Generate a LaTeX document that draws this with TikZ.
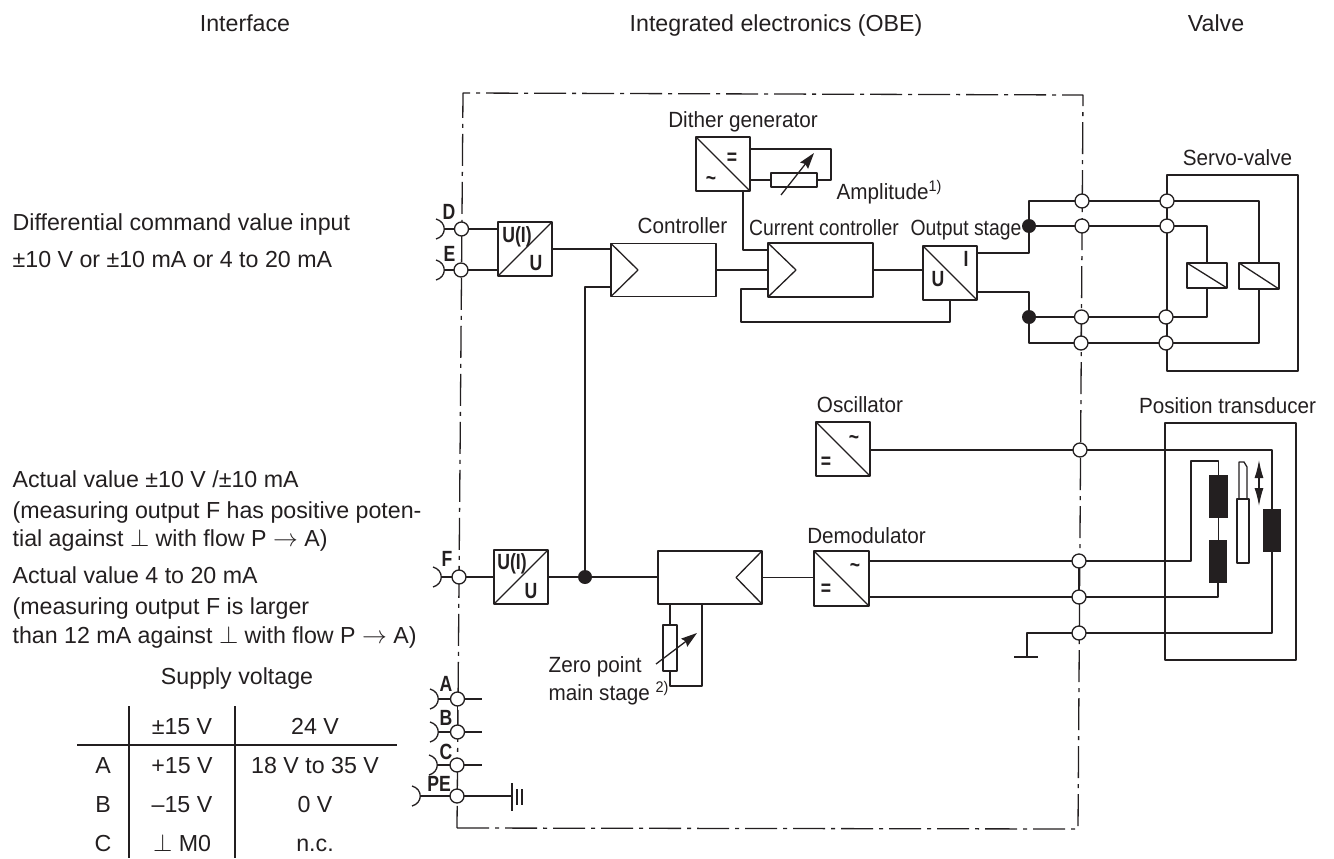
\documentclass[tikz,border=0pt]{standalone}
\usepackage{fontspec}
\setmainfont{Liberation Sans}
\newfontfamily\labfont[FakeStretch=0.94]{Liberation Sans}
\newfontfamily\tightfont[FakeStretch=0.88]{Liberation Sans}
\newfontfamily\tagfont[FakeStretch=0.8]{Liberation Sans}
\usetikzlibrary{arrows.meta}
\definecolor{ink}{HTML}{231F20}
\begin{document}
\begin{tikzpicture}[>={Stealth[length=16bp,width=10bp,inset=2bp]},line join=bevel,yscale=-1,
  color=ink,line width=1.3bp,
  big/.style={inner sep=0pt,text height=16.5bp,text depth=0pt,font=\fontsize{23.2bp}{26bp}\selectfont},
  lab/.style={inner sep=0pt,text height=16bp,text depth=0pt,font=\labfont\fontsize{22bp}{25bp}\selectfont},
  tight/.style={inner sep=0pt,text height=16bp,text depth=0pt,font=\tightfont\fontsize{22bp}{25bp}\selectfont},
  tag/.style={inner sep=0pt,text height=15.7bp,text depth=0pt,font=\tagfont\fontsize{22bp}{25bp}\selectfont\bfseries},
  box/.style={draw,rectangle,inner sep=0pt,outer sep=0pt,minimum width=#1},
  box/.default=54bp,
  core/.style={rectangle,fill=ink,inner sep=0pt,outer sep=0pt,minimum width=18.5bp,minimum height=43bp},
  term/.style={draw,circle,fill=white,inner sep=0pt,outer sep=0pt,minimum size=14bp},
  junc/.style={circle,fill=ink,inner sep=0pt,outer sep=0pt,minimum size=14bp},
  frame/.style={dash pattern=on 32bp off 6bp on 4bp off 6bp},
  socket/.pic={\draw (-8bp,-10bp) .. controls (3bp,-7bp) and (3bp,7bp) .. (-8bp,10bp);},
]
\useasboundingbox (0bp,0bp) rectangle (1334bp,859bp);
%%
\coordinate (frame_nw) at (463bp,93bp);
\coordinate (frame_ne) at (1083bp,95bp);
\coordinate (frame_se) at (1078bp,829bp);
\coordinate (frame_sw) at (457bp,828bp);
\draw [frame] (frame_sw) -- (frame_se) -- (frame_ne) -- (frame_nw) -- (frame_sw);
%
\node (head_if) at (245bp,23bp) [big] {Interface};
\node (head_obe) at (776bp,23bp) [big] {Integrated electronics (OBE)};
\node (head_valve) at (1216bp,23bp) [big] {Valve};
%
\node (txt_cmd_a) at (12bp,222bp) [big,anchor=west] {Differential command value input};
\node (txt_cmd_b) at (12bp,259bp) [big,anchor=west] {±10 V or ±10 mA or 4 to 20 mA};
\node (txt_act_a) at (12bp,479bp) [big,anchor=west] {Actual value ±10 V /±10 mA};
\node (txt_act_b) at (12bp,510bp) [big,anchor=west] {(measuring output F has positive poten-};
\node (txt_act_c) at (12bp,538bp) [big,anchor=west] {tial against $\perp$ with flow P $\rightarrow$ A)};
\node (txt_act_d) at (12bp,575bp) [big,anchor=west] {Actual value 4 to 20 mA};
\node (txt_act_e) at (12bp,606bp) [big,anchor=west] {(measuring output F is larger};
\node (txt_act_f) at (12bp,635bp) [big,anchor=west] {than 12 mA against $\perp$ with flow P $\rightarrow$ A)};
%
\node (tab_title) at (237bp,676bp) [big] {Supply voltage};
\coordinate (tab_l) at (77bp,745bp);
\coordinate (tab_r) at (397bp,745bp);
\coordinate (tab_a_t) at (129bp,706bp);
\coordinate (tab_a_b) at (129bp,858bp);
\coordinate (tab_b_t) at (235bp,706bp);
\coordinate (tab_b_b) at (235bp,858bp);
\draw (tab_l) -- (tab_r);
\draw (tab_a_t) -- (tab_a_b);
\draw (tab_b_t) -- (tab_b_b);
\node (tab_15) at (182bp,726bp) [big] {±15 V};
\node (tab_24) at (315bp,726bp) [big] {24 V};
\node (tab_A) at (103bp,765bp) [big] {A};
\node (tab_A15) at (182bp,765bp) [big] {+15 V};
\node (tab_A24) at (315bp,765bp) [big] {18 V to 35 V};
\node (tab_B) at (103bp,804bp) [big] {B};
\node (tab_B15) at (182bp,804bp) [big] {–15 V};
\node (tab_B24) at (315bp,804bp) [big] {0 V};
\node (tab_C) at (103bp,843bp) [big] {C};
\node (tab_C15) at (182bp,843bp) [big] {$\perp$ M0};
\node (tab_C24) at (315bp,843bp) [big] {n.c.};
%
\node (servo) at (1232.5bp,273bp) [box=131bp,minimum height=196bp] {};
\node (pos) at (1230.5bp,541.5bp) [box=131bp,minimum height=237bp] {};
\node (lbl_servo) at (1237.5bp,157bp) [lab] {Servo-valve};
\node (lbl_pos) at (1227.5bp,405bp) [lab] {Position transducer};
%
\node (term_D) at (461.5bp,229bp) [term] {};
\node (term_E) at (461bp,270bp) [term] {};
\node (term_F) at (459bp,577bp) [term] {};
\node (term_A) at (457.5bp,699bp) [term] {};
\node (term_B) at (457.5bp,732bp) [term] {};
\node (term_C) at (457bp,765bp) [term] {};
\node (term_PE) at (457bp,796bp) [term] {};
\node (tag_D) at (449bp,212bp) [tag] {D};
\node (tag_E) at (449.5bp,254bp) [tag] {E};
\node (tag_F) at (447bp,559bp) [tag] {F};
\node (tag_A) at (446bp,684bp) [tag] {A};
\node (tag_B) at (446bp,718bp) [tag] {B};
\node (tag_C) at (446bp,752bp) [tag] {C};
\node (tag_PE) at (439bp,784bp) [tag] {PE};
%
\coordinate (sock_D) at (444bp,229bp);
\coordinate (sock_E) at (444bp,270bp);
\coordinate (sock_F) at (441bp,577bp);
\coordinate (sock_A) at (438bp,699bp);
\coordinate (sock_B) at (438bp,732bp);
\coordinate (sock_C) at (437bp,765bp);
\coordinate (sock_PE) at (420bp,796bp);
\draw (sock_D) pic {socket} -- (term_D);
\draw (sock_E) pic {socket} -- (term_E);
\draw (sock_F) pic {socket} -- (term_F);
\draw (sock_A) pic {socket} -- (term_A);
\draw (sock_B) pic {socket} -- (term_B);
\draw (sock_C) pic {socket} -- (term_C);
\draw (sock_PE) pic {socket} -- (term_PE);
%
\coordinate (out_A) at (482bp,699bp);
\coordinate (out_B) at (482bp,732bp);
\coordinate (out_C) at (482bp,765bp);
\coordinate (gnd_PE) at (512bp,796bp);
\draw (term_A) -- (out_A);
\draw (term_B) -- (out_B);
\draw (term_C) -- (out_C);
\draw (term_PE) -- (gnd_PE);
\draw (gnd_PE) +(0bp,-13bp) -- +(0bp,15bp);
\draw (gnd_PE) +(5bp,-7bp) -- +(5bp,9bp);
\draw (gnd_PE) +(10bp,-7bp) -- +(10bp,9bp);
\draw (term_A) -- (term_B);
%
\node (du_D) at (525bp,249bp) [box,minimum height=54bp] {};
\draw (du_D.south west) -- (du_D.north east);
\node (du_D_i) at (517bp,235bp) [tag] {U(I)};
\node (du_D_u) at (536bp,263bp) [tag] {U};
\node (du_F) at (521bp,577bp) [box,minimum height=54bp] {};
\draw (du_F.south west) -- (du_F.north east);
\node (du_F_i) at (512bp,562bp) [tag] {U(I)};
\node (du_F_u) at (531bp,591bp) [tag] {U};
\draw (term_D) -- (du_D.west |- term_D);
\draw (term_E) -- (du_D.west |- term_E);
\draw (term_F) -- (du_F.west |- term_F);
%
\node (ctrl) at (663.5bp,270bp) [box=105bp,minimum height=53bp] {};
\coordinate (ctrl_tip) at (638bp,270bp);
\draw (ctrl.north west) -- (ctrl_tip) -- (ctrl.south west);
\node (lbl_ctrl) at (682.5bp,225bp) [lab] {Controller};
\coordinate (ctrl_fb) at (611bp,287bp);
\node (curr) at (820.5bp,270bp) [box=105bp,minimum height=54bp] {};
\coordinate (curr_tip) at (796bp,270bp);
\draw (curr.north west) -- (curr_tip) -- (curr.south west);
\node (lbl_curr) at (824bp,227bp) [tight] {Current controller};
\coordinate (curr_dith) at (768bp,250bp);
\coordinate (curr_fb) at (768bp,289bp);
\node (stage) at (950bp,273bp) [box,minimum height=54bp] {};
\draw (stage.north west) -- (stage.south east);
\node (stage_u) at (938bp,279bp) [tag] {U};
\node (stage_i) at (966bp,259bp) [tag] {I};
\node (lbl_stage) at (966bp,227bp) [tight] {Output stage};
\draw (du_D.east) -- (ctrl.west |- du_D.east);
\draw (ctrl.east) -- (curr.west |- ctrl.east);
\draw (curr.east) -- (stage.west |- curr.east);
\coordinate (fb_a) at (741bp,289bp);
\coordinate (fb_b) at (741bp,322bp);
\draw (curr_fb) -- (fb_a) -- (fb_b) -| (stage.south);
%
\node (dither) at (723bp,164bp) [box,minimum height=54bp] {};
\draw (dither.north west) -- (dither.south east);
\node (dither_eq) at (732bp,157bp) [tag] {=};
\node (dither_ac) at (711bp,178bp) [tag] {\textasciitilde};
\node (lbl_dither) at (743bp,119bp) [lab] {Dither generator};
\node (pot_dither) at (794bp,180bp) [box=46bp,minimum height=14bp] {};
\node (lbl_amp) at (836bp,191bp) [lab,anchor=west] {Amplitude\textsuperscript{1)}};
\coordinate (dither_p) at (750bp,149bp);
\coordinate (dither_q) at (831bp,149bp);
\coordinate (dither_out) at (743bp,191bp);
\coordinate (amp_a) at (781bp,195bp);
\coordinate (amp_b) at (814bp,153bp);
\draw (dither.east |- pot_dither) -- (pot_dither.west);
\draw (dither_p) -- (dither_q) |- (pot_dither.east);
\draw (dither_out) |- (curr_dith);
\draw [->] (amp_a) -- (amp_b);
%
\node (junc_F) at (585bp,577bp) [junc] {};
\draw (du_F.east) -- (junc_F);
\draw (junc_F) |- (ctrl_fb);
\node (zero) at (710bp,577.5bp) [box=104bp,minimum height=53bp] {};
\coordinate (zero_tip) at (736bp,577.5bp);
\draw (zero.north east) -- (zero_tip) -- (zero.south east);
\draw (junc_F) -- (zero.west |- junc_F);
\node (pot_zero) at (670bp,648bp) [box=14bp,minimum height=46bp] {};
\coordinate (zero_a) at (670bp,686bp);
\coordinate (zero_b) at (702bp,686bp);
\coordinate (zero_c) at (702bp,604bp);
\coordinate (zero_d) at (656bp,664bp);
\coordinate (zero_e) at (697bp,633bp);
\draw (zero.south west -| pot_zero) -- (pot_zero.north);
\draw (pot_zero.south) -- (zero_a) -- (zero_b) -- (zero_c);
\draw [->] (zero_d) -- (zero_e);
\node (lbl_zero_a) at (548bp,664bp) [lab,anchor=west] {Zero point};
\node (lbl_zero_b) at (548bp,692bp) [lab,anchor=west] {main stage \textsuperscript{2)}};
%
\node (osc) at (843bp,449bp) [box,minimum height=54bp] {};
\draw (osc.north west) -- (osc.south east);
\node (osc_eq) at (826bp,461bp) [tag] {=};
\node (osc_ac) at (854bp,437bp) [tag] {\textasciitilde};
\node (lbl_osc) at (860bp,404bp) [lab] {Oscillator};
\node (demod) at (841.5bp,578.5bp) [box=55bp,minimum height=55bp] {};
\draw (demod.north west) -- (demod.south east);
\node (demod_eq) at (826bp,588bp) [tag] {=};
\node (demod_ac) at (855bp,565bp) [tag] {\textasciitilde};
\node (lbl_demod) at (866.5bp,535bp) [lab] {Demodulator};
\draw (zero.east) -- (demod.west |- zero.east);
%
\node (link_1) at (1082bp,201bp) [term] {};
\node (link_2) at (1082bp,226bp) [term] {};
\node (link_3) at (1081.5bp,317bp) [term] {};
\node (link_4) at (1081bp,343bp) [term] {};
\node (link_5) at (1080bp,450bp) [term] {};
\node (link_6) at (1079bp,561bp) [term] {};
\node (link_7) at (1079bp,597bp) [term] {};
\node (link_8) at (1079bp,633bp) [term] {};
\node (valve_1) at (1167bp,201bp) [term] {};
\node (valve_2) at (1167bp,226bp) [term] {};
\node (valve_3) at (1166bp,317bp) [term] {};
\node (valve_4) at (1166bp,343bp) [term] {};
\draw (link_3) -- (link_4);
\draw (link_6) -- (link_7);
%
\node (junc_t) at (1029bp,226bp) [junc] {};
\node (junc_b) at (1029bp,317bp) [junc] {};
\coordinate (stage_p) at (977bp,253bp);
\coordinate (stage_n) at (977bp,292bp);
\coordinate (bus_t) at (1029bp,201bp);
\coordinate (bus_b) at (1029bp,343bp);
\draw (stage_p) -| (bus_t) -- (link_1) -- (valve_1);
\draw (stage_n) -| (bus_b) -- (link_4) -- (valve_4);
\draw (junc_t) -- (link_2) -- (valve_2);
\draw (junc_b) -- (link_3) -- (valve_3);
%
\node (coil_a) at (1207bp,275.5bp) [box=40bp,minimum height=25bp] {};
\node (coil_b) at (1259bp,276bp) [box=40bp,minimum height=26bp] {};
\draw (coil_a.north west) -- (coil_a.south east);
\draw (coil_b.north west) -- (coil_b.south east);
\draw (valve_1) -| (coil_b.north);
\draw (valve_2) -| (coil_a.north);
\draw (valve_3) -| (coil_a.south);
\draw (valve_4) -| (coil_b.south);
%
\node (core_a) at (1218.5bp,496.5bp) [core] {};
\node (core_b) at (1218bp,561.5bp) [core] {};
\node (core_c) at (1272bp,530bp) [core] {};
\node (plunger) at (1243bp,531bp) [box=12bp,minimum height=64bp] {};
\coordinate (rod_a) at (1239bp,499bp);
\coordinate (rod_b) at (1239bp,462bp);
\coordinate (rod_c) at (1244bp,462bp);
\coordinate (rod_d) at (1247bp,467bp);
\coordinate (rod_e) at (1247bp,499bp);
\draw (rod_a) -- (rod_b) -- (rod_c) -- (rod_d) -- (rod_e);
\coordinate (move_a) at (1259bp,460bp);
\coordinate (move_b) at (1259bp,506bp);
\draw [{Latex[length=18bp,width=9bp]}-{Latex[length=18bp,width=9bp]}] (move_a) -- (move_b);
%
\coordinate (coil_lead) at (1191bp,461bp);
\coordinate (gnd_t) at (1027bp,657bp);
\draw (osc.east |- link_5) -- (link_5) -| (core_c.north);
\draw (core_c.south) |- (link_8);
\draw (demod.east |- link_6) -- (link_6) -| (coil_lead) -| (core_a.north);
\draw (core_a.south) -- (core_a.south |- core_b.north);
\draw (core_b.south) |- (link_7);
\draw (demod.east |- link_7) -- (link_7);
\draw (link_8) -| (gnd_t);
\draw [line width=1.6bp] (gnd_t) +(-13bp,0bp) -- +(11bp,0bp);
%
\end{tikzpicture}
\end{document}
